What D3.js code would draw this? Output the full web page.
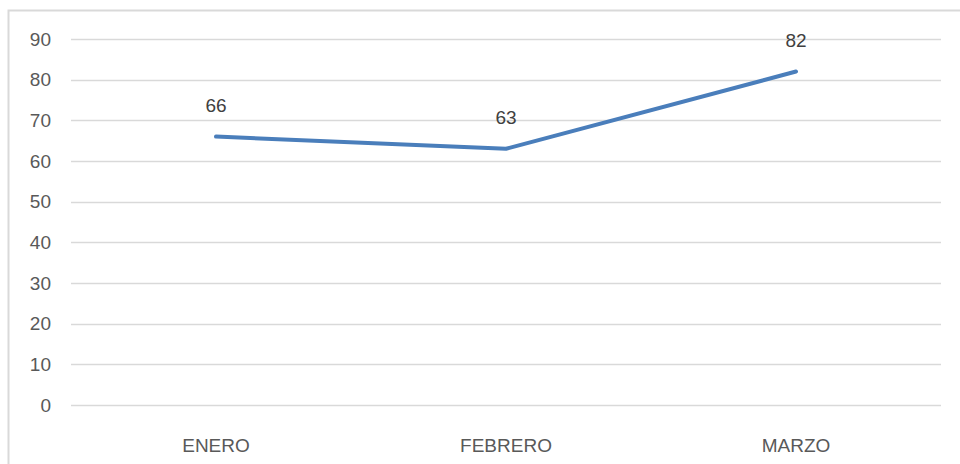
<!DOCTYPE html>
<html><head><meta charset="utf-8">
<script src="https://cdn.jsdelivr.net/npm/d3@7"></script>
<style>body{margin:0;background:#fff}svg{display:block}text{font-family:"Liberation Sans",Arial,sans-serif}</style>
</head><body><svg id="c" width="960" height="464"></svg>
<script>
const categories = ["ENERO","FEBRERO","MARZO"];
const values = [66,63,82];
const yTicks = [0,10,20,30,40,50,60,70,80,90];

const svg = d3.select("#c");
svg.append("rect").attr("x",8.5).attr("y",10.5).attr("width",1000).attr("height",1000)
  .attr("fill","#fff").attr("stroke","#d9d9d9").attr("stroke-width",2);

const x = d3.scaleBand().domain(categories).range([71,941]);
const y = d3.scaleLinear().domain([0,90]).range([405,39]);

const g = svg.append("g");
g.selectAll("line.grid").data(yTicks).join("line").attr("class","grid")
  .attr("x1",71).attr("x2",941).attr("y1",d=>Math.round(y(d))+0.5).attr("y2",d=>Math.round(y(d))+0.5)
  .attr("stroke","#d9d9d9").attr("stroke-width",1.5);

g.selectAll("text.yl").data(yTicks).join("text").attr("class","yl")
  .attr("x",51).attr("y",d=>y(d)).attr("dy","0.35em").attr("text-anchor","end")
  .attr("font-size",19).attr("fill","#595959").text(d=>d);

g.selectAll("text.xl").data(categories).join("text").attr("class","xl")
  .attr("x",d=>x(d)+x.bandwidth()/2).attr("y",445).attr("dy","0.35em").attr("text-anchor","middle")
  .attr("font-size",19).attr("fill","#595959").text(d=>d);

const line = d3.line().x((d,i)=>x(categories[i])+x.bandwidth()/2).y(d=>y(d));
g.append("path").datum(values).attr("d",line).attr("fill","none")
  .attr("stroke","#4a7ebb").attr("stroke-width",4).attr("stroke-linecap","round").attr("stroke-linejoin","round");

g.selectAll("text.dl").data(values).join("text").attr("class","dl")
  .attr("x",(d,i)=>x(categories[i])+x.bandwidth()/2).attr("y",d=>y(d)-31).attr("dy","0.35em")
  .attr("text-anchor","middle").attr("font-size",19).attr("fill","#404040").text(d=>d);
</script></body></html>
